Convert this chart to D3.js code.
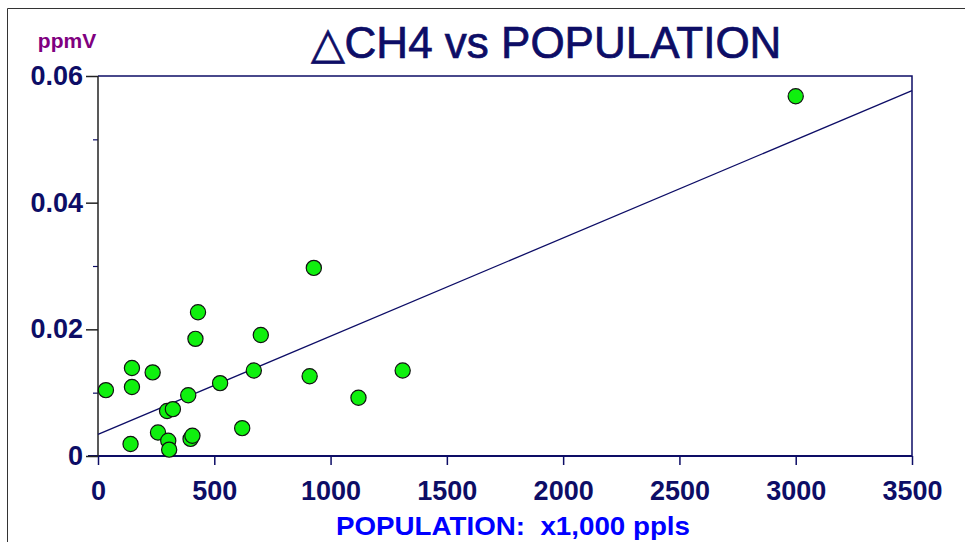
<!DOCTYPE html>
<html>
<head>
<meta charset="utf-8">
<script src="https://cdn.jsdelivr.net/npm/d3@7"></script>
<style>
  html, body { margin: 0; padding: 0; background: #fff; }
  svg { display: block; font-family: "Liberation Sans", Arial, sans-serif; }
</style>
</head>
<body>
<svg id="chart" width="965" height="542"></svg>
<script>
// population (x1,000 ppl) and delta CH4 (ppmV) for each site
const population = [34, 146, 146, 235, 140, 258, 302, 306, 297, 322, 388, 398, 406,
                    419, 430, 525, 620, 670, 700, 910, 928, 1120, 1310, 3000];
const deltaCH4 = [0.0104, 0.0109, 0.0139, 0.0132, 0.0019, 0.0037, 0.0024, 0.0010, 0.0071, 0.0074, 0.0096, 0.0027, 0.0032,
                  0.0185, 0.0227, 0.0115, 0.0044, 0.0135, 0.0191, 0.0126, 0.0297, 0.0092, 0.0135, 0.0568];

// fitted regression line, end points
const fitX = [0, 3500];
const fitY = [0.0034, 0.0577];

const xTicks = [0, 500, 1000, 1500, 2000, 2500, 3000, 3500];
const yTicks = [0, 0.02, 0.04, 0.06];
const yMinorTicks = [0.01, 0.03, 0.05];
const yTickLabels = ["0", "0.02", "0.04", "0.06"];

const navy = "#0d0d66";
const svg = d3.select("#chart");

const margin = {left: 98, right: 53, top: 76, bottom: 86};
const W = 965, H = 542;

const x = d3.scaleLinear().domain([0, 3500]).range([margin.left, W - margin.right]);
const y = d3.scaleLinear().domain([0, 0.06]).range([H - margin.bottom, margin.top]);

// outer frame (only left and top edges visible)
svg.append("path")
    .attr("d", `M7.5,${H}V8.5H${W}`)
    .attr("fill", "none")
    .attr("stroke", "#333")
    .attr("stroke-width", 1);

// plot frame top and right
svg.append("path")
    .attr("d", `M${x(0)},${y(0.06)}H${x(3500)}V${y(0)}`)
    .attr("fill", "none")
    .attr("stroke", navy)
    .attr("stroke-width", 1.5);

// x axis
const xAxis = svg.append("g")
    .attr("transform", `translate(0,${y(0)})`)
    .call(d3.axisBottom(x).tickValues(xTicks).tickSize(9).tickPadding(16).tickFormat(d3.format("d")));
xAxis.select(".domain").attr("stroke", navy).attr("stroke-width", 2)
    .attr("d", `M${x(0) - 10},0H${x(3500)}`);
xAxis.selectAll(".tick line").attr("stroke", navy).attr("stroke-width", 1.5);
xAxis.selectAll(".tick text")
    .attr("fill", navy)
    .attr("font-size", 27)
    .attr("font-weight", "bold")
    .attr("font-family", "'Liberation Sans', Arial, sans-serif");

// y minor ticks
const yMinor = svg.append("g")
    .attr("transform", `translate(${x(0)},0)`)
    .call(d3.axisLeft(y).tickValues(yMinorTicks).tickSize(5).tickFormat(""));
yMinor.select(".domain").remove();
yMinor.selectAll(".tick line").attr("stroke", navy).attr("stroke-width", 1.2);

// y axis
const yAxis = svg.append("g")
    .attr("transform", `translate(${x(0)},0)`)
    .call(d3.axisLeft(y).tickValues(yTicks).tickSize(12).tickPadding(3)
        .tickFormat((d, i) => yTickLabels[i]));
yAxis.select(".domain").attr("stroke", "#222").attr("stroke-width", 1.5)
    .attr("d", `M0,${y(0)}V${y(0.06)}`);
yAxis.selectAll(".tick line").attr("stroke", "#222").attr("stroke-width", 1.5);
yAxis.selectAll(".tick text")
    .attr("fill", navy)
    .attr("font-size", 27)
    .attr("font-weight", "bold")
    .attr("font-family", "'Liberation Sans', Arial, sans-serif");

// regression line
svg.append("path")
    .datum(d3.zip(fitX, fitY))
    .attr("d", d3.line().x(d => x(d[0])).y(d => y(d[1])))
    .attr("fill", "none")
    .attr("stroke", navy)
    .attr("stroke-width", 1.3);

// points
svg.append("g")
    .selectAll("circle")
    .data(d3.zip(population, deltaCH4))
    .join("circle")
    .attr("cx", d => x(d[0]))
    .attr("cy", d => y(d[1]))
    .attr("r", 7.6)
    .attr("fill", "#0ff00e")
    .attr("stroke", "#111")
    .attr("stroke-width", 1.2);

// title
svg.append("text")
    .attr("x", 546)
    .attr("y", 58)
    .attr("text-anchor", "middle")
    .attr("fill", navy)
    .attr("stroke", navy)
    .attr("stroke-width", 0.7)
    .attr("font-size", 44)
    .text("△CH4 vs POPULATION");

// unit label
svg.append("text")
    .attr("x", 67)
    .attr("y", 48)
    .attr("text-anchor", "middle")
    .attr("fill", "#800080")
    .attr("font-size", 21)
    .attr("font-weight", "bold")
    .text("ppmV");

// x axis title
svg.append("text")
    .attr("x", 513)
    .attr("y", 535)
    .attr("text-anchor", "middle")
    .attr("fill", "#0000ff")
    .attr("font-size", 25)
    .attr("font-weight", "bold")
    .attr("textLength", 354)
    .attr("lengthAdjust", "spacingAndGlyphs")
    .attr("xml:space", "preserve")
    .text("POPULATION:  x1,000 ppls");
</script>
</body>
</html>
